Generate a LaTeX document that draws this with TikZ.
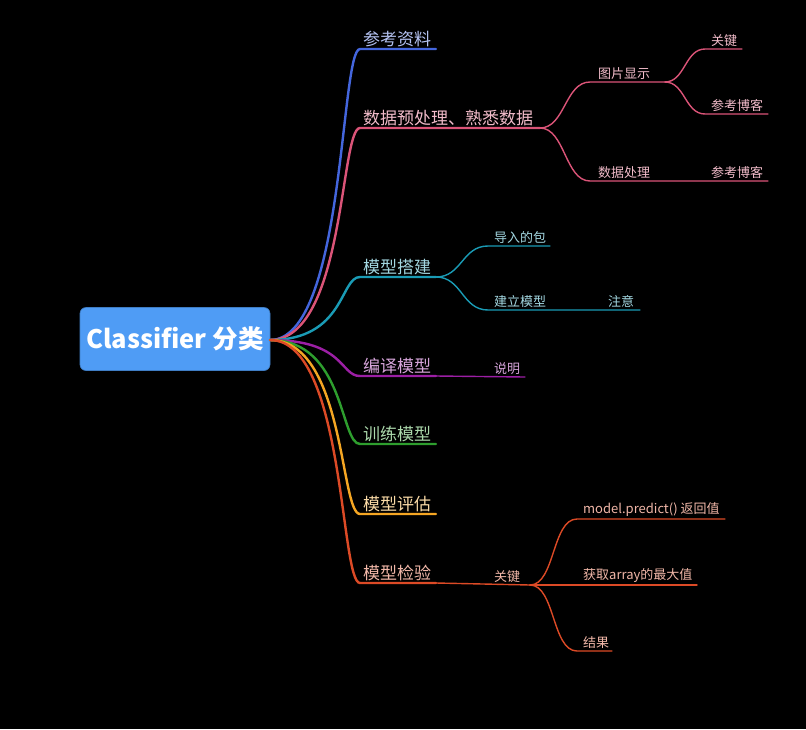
\documentclass[tikz,border=0pt]{standalone}
\usepackage{fontspec}
\setmainfont{Noto Sans CJK SC}
\definecolor{cblue}{HTML}{4466DD}
\definecolor{cpink}{HTML}{DB5478}
\definecolor{cteal}{HTML}{1A9BB5}
\definecolor{cpurp}{HTML}{9C1FA5}
\definecolor{cgreen}{HTML}{2E9E2E}
\definecolor{corange}{HTML}{F5A623}
\definecolor{cred}{HTML}{DC4A26}
\definecolor{croot}{HTML}{4F9CF5}
\tikzset{
  lone/.style={line width=2.4pt, line cap=round},
  ltwo/.style={line width=1.4pt, line cap=round},
  tone/.style={anchor=south west, inner sep=0pt, font=\fontsize{17}{17}\selectfont},
  ttwo/.style={anchor=south west, inner sep=0pt, font=\fontsize{13}{13}\selectfont},
}
\begin{document}
\begin{tikzpicture}[x=1pt,y=-1pt]
\fill[black] (0,0) rectangle (806,729);
\useasboundingbox (0,0) rectangle (806,729);
% root
\node[fill=croot, draw=croot!80!black, line width=0.6pt, rounded corners=6pt, minimum width=190pt, minimum height=63pt, inner sep=0pt, text=white, font=\fontsize{25.5}{25.5}\selectfont\bfseries] (root) at (175,339) {Classifier 分类};
\coordinate (r) at (270,340);
% level 1 coordinates
\coordinate (a1) at (360,49);  \coordinate (a1e) at (436,49);
\coordinate (a2) at (360,128); \coordinate (a2e) at (540,128);
\coordinate (a3) at (360,277); \coordinate (a3e) at (436,277);
\coordinate (a4) at (360,376); \coordinate (a4e) at (436,376);
\coordinate (a5) at (360,444); \coordinate (a5e) at (436,444);
\coordinate (a6) at (360,514); \coordinate (a6e) at (436,514);
\coordinate (a7) at (360,583); \coordinate (a7e) at (436,583);
\foreach \n/\c in {a1/cblue,a2/cpink,a3/cteal,a4/cpurp,a5/cgreen,a6/corange,a7/cred}{
  \draw[lone,\c] (r) .. controls ([xshift=-15pt]\n |- r) and ([xshift=-20pt]\n) .. (\n) -- (\n e);
}
\node[tone, text=cblue!40!white] (t1) at (363,47) {参考资料};
\node[tone, text=cpink!40!white] (t2) at (363,126) {数据预处理、熟悉数据};
\node[tone, text=cteal!40!white] (t3) at (363,275) {模型搭建};
\node[tone, text=cpurp!40!white] (t4) at (363,374) {编译模型};
\node[tone, text=cgreen!40!white] (t5) at (363,442) {训练模型};
\node[tone, text=corange!40!white] (t6) at (363,512) {模型评估};
\node[tone, text=cred!40!white] (t7) at (363,581) {模型检验};
% pink sub-branches
\coordinate (b1) at (590,82);  \coordinate (b1e) at (665,82);
\coordinate (b2) at (590,181); \coordinate (b2e) at (705,181);
\coordinate (b3) at (705,49);  \coordinate (b3e) at (742,49);
\coordinate (b4) at (705,114); \coordinate (b4e) at (768,114);
\coordinate (b5e) at (768,181);
\draw[ltwo,cpink] (a2e) .. controls (565,128) and (565,82) .. (b1) -- (b1e);
\draw[ltwo,cpink] (a2e) .. controls (565,128) and (565,181) .. (b2) -- (b2e) -- (b5e);
\draw[ltwo,cpink] (b1e) .. controls (685,82) and (685,49) .. (b3) -- (b3e);
\draw[ltwo,cpink] (b1e) .. controls (685,82) and (685,114) .. (b4) -- (b4e);
\node[ttwo, text=cpink!40!white] (s1) at (598,80) {图片显示};
\node[ttwo, text=cpink!40!white] (s2) at (598,179) {数据处理};
\node[ttwo, text=cpink!40!white] (s3) at (711,47) {关键};
\node[ttwo, text=cpink!40!white] (s4) at (711,112) {参考博客};
\node[ttwo, text=cpink!40!white] (s5) at (711,179) {参考博客};
% teal sub-branches
\coordinate (c1) at (488,246); \coordinate (c1e) at (550,246);
\coordinate (c2) at (488,310); \coordinate (c2e) at (640,310);
\draw[ltwo,cteal] (a3e) .. controls (462,277) and (462,246) .. (c1) -- (c1e);
\draw[ltwo,cteal] (a3e) .. controls (462,277) and (462,310) .. (c2) -- (c2e);
\node[ttwo, text=cteal!40!white] (s6) at (494,244) {导入的包};
\node[ttwo, text=cteal!40!white] (s7) at (494,308) {建立模型};
\node[ttwo, text=cteal!40!white] (s8) at (608,308) {注意};
% purple
\coordinate (d1e) at (525,377);
\draw[ltwo,cpurp] (a4e) -- (d1e);
\node[ttwo, text=cpurp!40!white] (s9) at (494,375) {说明};
% red sub-branches
\coordinate (e1e) at (530,585);
\coordinate (f1) at (577,519); \coordinate (f1e) at (725,519);
\coordinate (f2e) at (697,585);
\coordinate (f3) at (577,651); \coordinate (f3e) at (612,651);
\draw[ltwo,cred] (a7e) -- (e1e);
\draw[ltwo,cred] (e1e) .. controls (555,585) and (552,519) .. (f1) -- (f1e);
\draw[ltwo,cred] (e1e) -- (f2e);
\draw[ltwo,cred] (e1e) .. controls (555,585) and (552,651) .. (f3) -- (f3e);
\node[ttwo, text=cred!40!white] (s10) at (494,583) {关键};
\node[ttwo, text=cred!40!white] (s11) at (583,517) {model.predict() 返回值};
\node[ttwo, text=cred!40!white] (s12) at (583,583) {获取array的最大值};
\node[ttwo, text=cred!40!white] (s13) at (583,649) {结果};
\end{tikzpicture}
\end{document}
